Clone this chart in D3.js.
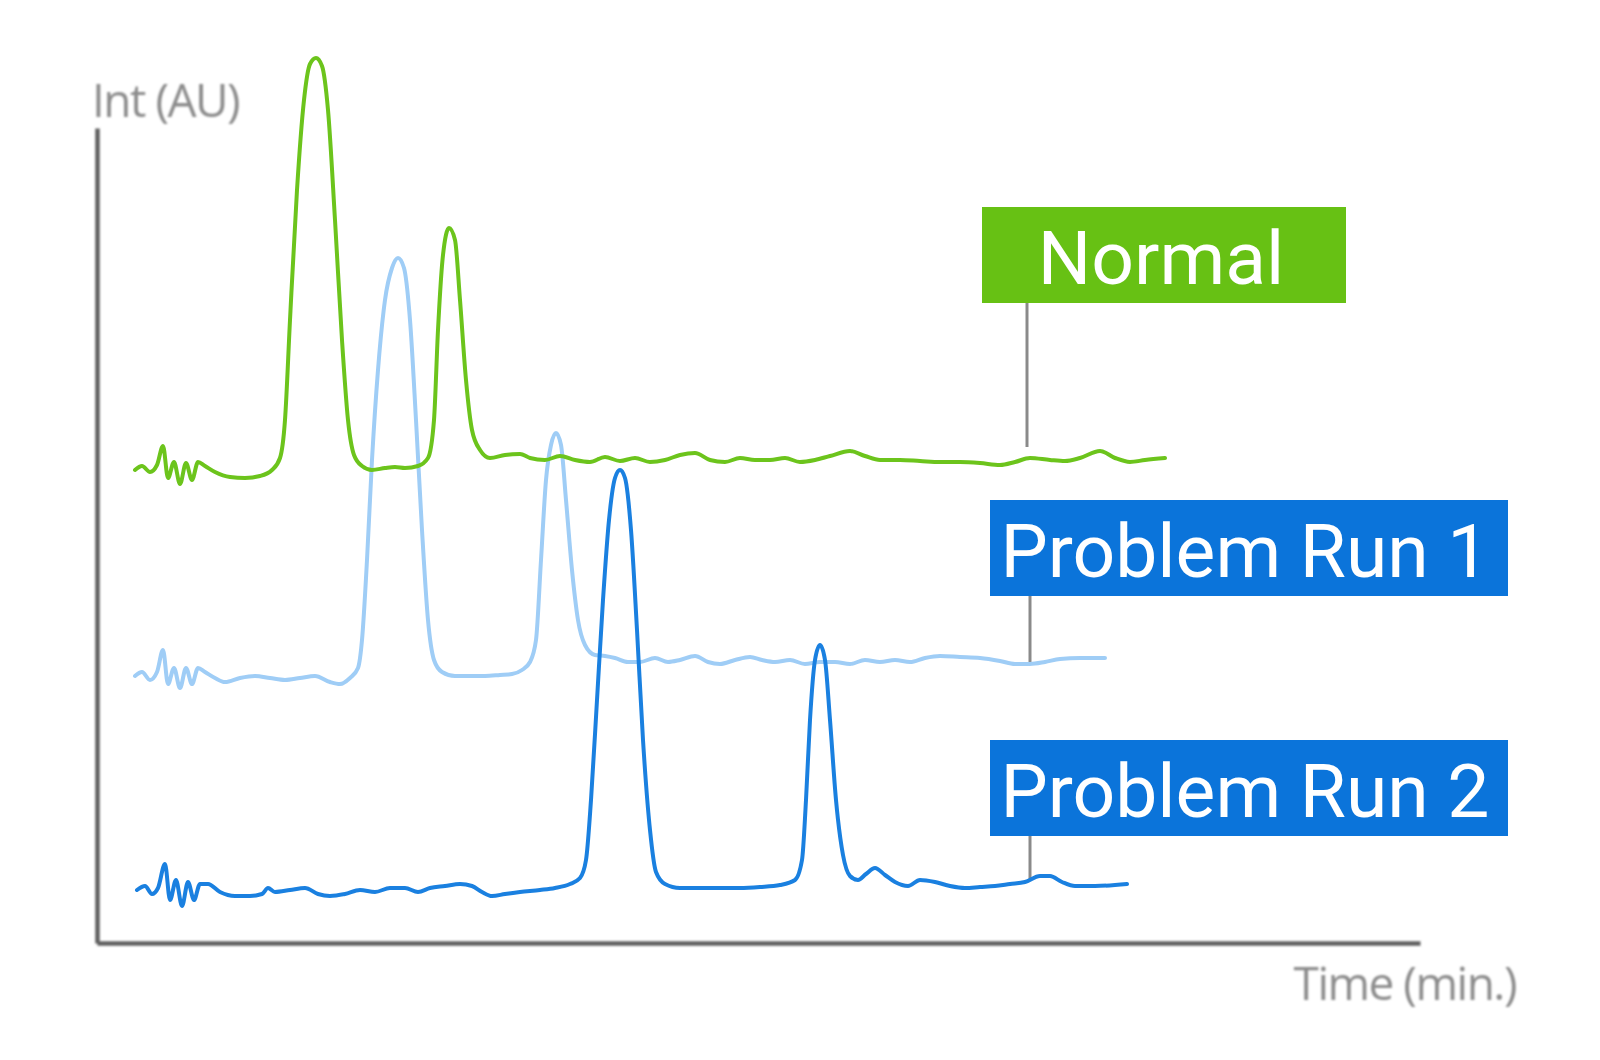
<!DOCTYPE html>
<html>
<head>
<meta charset="utf-8">
<script src="https://cdn.jsdelivr.net/npm/d3@7"></script>
<style>
  html, body { margin: 0; padding: 0; background: #fff; }
  svg { display: block; }
</style>
</head>
<body>
<div id="chart"></div>
<script>
// traces as [time (min), intensity (AU)]
const normalTrace = [
  [0.76,47.3],[0.90,47.7],[1.06,47.1],[1.20,47.8],[1.32,49.7],[1.42,46.5],[1.54,48.1],[1.66,45.9],
  [1.78,48.0],[1.90,46.3],[2.02,48.1],[2.16,47.7],[2.36,47.1],[2.66,46.6],[2.96,46.5],[3.26,46.7],
  [3.50,47.3],[3.66,48.5],[3.76,52.3],[3.86,62.3],[4.00,75.3],[4.14,84.3],[4.26,87.9],[4.38,88.5],
  [4.50,87.7],[4.62,83.3],[4.76,72.3],[4.90,60.3],[5.02,52.3],[5.14,48.8],[5.30,47.7],[5.50,47.3],
  [5.76,47.5],[5.96,47.6],[6.16,47.5],[6.42,47.7],[6.62,48.5],[6.74,52.3],[6.82,61.3],[6.92,68.8],
  [7.04,71.5],[7.16,70.3],[7.26,64.3],[7.38,56.3],[7.50,51.3],[7.66,49.3],[7.86,48.5],[8.16,48.8],
  [8.46,48.9],[8.66,48.5],[8.96,48.3],[9.26,48.7],[9.56,48.3],[9.86,48.1],[10.16,48.6],[10.46,48.2],
  [10.76,48.5],[11.06,48.1],[11.36,48.3],[11.66,48.8],[11.96,49.0],[12.26,48.3],[12.56,48.1],[12.86,48.5],
  [13.16,48.3],[13.46,48.3],[13.76,48.5],[14.06,48.1],[14.36,48.3],[14.66,48.7],[15.06,49.2],[15.36,48.7],
  [15.66,48.3],[16.06,48.3],[16.46,48.2],[16.86,48.1],[17.26,48.1],[17.66,48.0],[18.06,47.8],[18.36,48.1],
  [18.66,48.5],[19.06,48.3],[19.36,48.2],[19.66,48.5],[20.06,49.2],[20.36,48.5],[20.66,48.1],[20.96,48.3],
  [21.36,48.5]
];

const run1Trace = [
  [0.76,26.7],[0.90,27.1],[1.06,26.3],[1.20,27.1],[1.32,29.3],[1.42,25.9],[1.54,27.5],[1.66,25.5],
  [1.78,27.5],[1.90,25.9],[2.02,27.5],[2.16,27.1],[2.36,26.5],[2.56,26.1],[2.86,26.5],[3.16,26.7],
  [3.46,26.5],[3.76,26.3],[4.06,26.5],[4.36,26.7],[4.66,26.1],[4.86,25.9],[5.06,26.5],[5.22,27.5],
  [5.30,30.3],[5.40,38.3],[5.50,48.3],[5.62,57.3],[5.76,64.3],[5.90,67.5],[6.02,68.5],[6.14,67.5],
  [6.26,62.3],[6.38,52.3],[6.50,41.3],[6.62,32.3],[6.74,28.3],[6.90,27.1],[7.16,26.7],[7.46,26.7],
  [7.76,26.7],[8.06,26.8],[8.30,26.9],[8.50,27.3],[8.66,28.1],[8.78,30.3],[8.88,38.3],[8.98,46.3],
  [9.08,49.8],[9.18,51.0],[9.28,49.8],[9.38,44.3],[9.50,37.3],[9.62,32.3],[9.76,29.8],[9.96,28.8],
  [10.16,28.7],[10.36,28.5],[10.62,28.1],[10.86,28.1],[11.16,28.5],[11.42,28.1],[11.66,28.3],[11.96,28.7],
  [12.22,28.1],[12.46,27.9],[12.76,28.3],[13.06,28.6],[13.30,28.3],[13.56,28.1],[13.86,28.3],[14.16,27.9],
  [14.46,28.1],[14.76,28.1],[15.06,27.9],[15.36,28.3],[15.66,28.1],[15.96,28.3],[16.26,28.1],[16.56,28.5],
  [16.86,28.7],[17.26,28.6],[17.66,28.5],[18.06,28.2],[18.36,27.9],[18.66,27.9],[18.96,28.1],[19.26,28.4],
  [19.66,28.5],[20.16,28.5]
];

const run2Trace = [
  [0.80,5.3],[0.96,5.7],[1.10,4.9],[1.22,5.5],[1.36,7.9],[1.46,4.3],[1.58,6.3],[1.70,3.7],
  [1.82,6.1],[1.94,4.3],[2.06,5.9],[2.22,5.9],[2.46,5.1],[2.76,4.7],[3.06,4.7],[3.30,4.9],
  [3.42,5.5],[3.56,5.1],[3.86,5.3],[4.16,5.5],[4.42,4.9],[4.66,4.7],[4.96,4.9],[5.26,5.3],
  [5.56,5.1],[5.86,5.5],[6.16,5.5],[6.42,5.1],[6.66,5.5],[6.96,5.7],[7.26,5.9],[7.50,5.7],
  [7.70,5.1],[7.90,4.7],[8.16,4.9],[8.46,5.1],[8.86,5.3],[9.16,5.5],[9.46,5.9],[9.66,6.5],
  [9.78,8.3],[9.88,14.3],[10.00,24.3],[10.12,34.3],[10.24,42.3],[10.36,46.5],[10.46,47.3],[10.56,46.5],
  [10.68,41.3],[10.80,31.3],[10.92,20.3],[11.06,11.3],[11.18,7.1],[11.36,5.9],[11.66,5.5],[12.06,5.5],
  [12.46,5.5],[12.86,5.5],[13.26,5.6],[13.66,5.8],[13.96,6.3],[14.10,8.3],[14.18,14.3],[14.26,22.3],
  [14.36,28.3],[14.46,29.8],[14.56,28.3],[14.66,22.3],[14.78,14.3],[14.92,8.8],[15.06,6.7],[15.22,6.3],
  [15.38,6.9],[15.56,7.5],[15.76,6.8],[15.96,6.1],[16.22,5.7],[16.46,6.3],[16.76,6.1],[17.06,5.7],
  [17.36,5.5],[17.66,5.6],[17.96,5.7],[18.26,5.9],[18.56,6.1],[18.86,6.7],[19.06,6.7],[19.30,6.1],
  [19.56,5.7],[19.96,5.7],[20.60,5.9]
];

const seriesNames = ["Normal", "Problem Run 1", "Problem Run 2"];
const seriesColors = ["#6cc41c", "#9fcdf6", "#1a80e0"];
const labelColors = ["#67c114", "#0b74da", "#0b74da"];
// where each label's leader line meets its trace
const leaderTimes = [18.6, 18.66, 18.66];
const leaderLevels = [49.6, 28.1, 6.3];

const traces = [normalTrace, run1Trace, run2Trace];

const width = 1600, height = 1060;

const x = d3.scaleLinear().domain([0, 26.46]).range([97, 1420]);
const y = d3.scaleLinear().domain([0, 81.5]).range([943, 128]);

const svg = d3.select("#chart").append("svg")
    .attr("width", width)
    .attr("height", height)
    .style("font-family", "Roboto, sans-serif");

const defs = svg.append("defs");
defs.append("filter").attr("id", "soft")
    .append("feGaussianBlur").attr("stdDeviation", 0.8);

// axes: no ticks, just the two lines
const axisG = svg.append("g").attr("filter", "url(#soft)");
axisG.append("g")
    .attr("transform", `translate(0,${y(0)})`)
    .call(d3.axisBottom(x).ticks(0).tickSizeOuter(0))
    .call(g => g.select(".domain").attr("stroke", "#5f5f5f").attr("stroke-width", 4.5));
axisG.append("g")
    .attr("transform", `translate(${x(0)},0)`)
    .call(d3.axisLeft(y).ticks(0).tickSizeOuter(0))
    .call(g => g.select(".domain").attr("stroke", "#5f5f5f").attr("stroke-width", 4.5));

const axisLabels = svg.append("g")
    .attr("fill", "#8c8c8c")
    .attr("filter", "url(#soft)")
    .style("font-family", "'Open Sans', sans-serif")
    .style("font-size", "46px")
    .style("letter-spacing", "-1.5px");

axisLabels.append("text")
    .attr("x", 92).attr("y", 117)
    .text("Int (AU)");

axisLabels.append("text")
    .attr("x", 1516).attr("y", 1000)
    .attr("text-anchor", "end")
    .text("Time (min.)");

// leader lines
const boxes = [
  {x0: 982, x1: 1346, y0: 207, y1: 303},
  {x0: 990, x1: 1508, y0: 500, y1: 596},
  {x0: 990, x1: 1508, y0: 740, y1: 836}
];

svg.append("g").selectAll("line")
    .data(boxes)
    .join("line")
    .attr("x1", (d, i) => x(leaderTimes[i]))
    .attr("x2", (d, i) => x(leaderTimes[i]))
    .attr("y1", d => d.y1)
    .attr("y2", (d, i) => y(leaderLevels[i]))
    .attr("stroke", "#8a8a8a")
    .attr("stroke-width", 3);

const line = d3.line()
    .x(d => x(d[0]))
    .y(d => y(d[1]))
    .curve(d3.curveMonotoneX);

// draw back to front: light blue, green, dark blue
const order = [1, 0, 2];
svg.append("g")
    .attr("fill", "none")
    .attr("stroke-linejoin", "round")
    .attr("stroke-linecap", "round")
    .selectAll("path")
    .data(order)
    .join("path")
    .attr("d", i => line(traces[i]))
    .attr("stroke", i => seriesColors[i])
    .attr("stroke-width", 4);

// label boxes
const lab = svg.append("g").selectAll("g")
    .data(boxes)
    .join("g");

lab.append("rect")
    .attr("x", d => d.x0)
    .attr("y", d => d.y0)
    .attr("width", d => d.x1 - d.x0)
    .attr("height", d => d.y1 - d.y0)
    .attr("fill", (d, i) => labelColors[i]);

lab.append("text")
    .attr("x", (d, i) => i === 0 ? 1161 : 1245)
    .attr("y", d => d.y0 + 77)
    .attr("text-anchor", "middle")
    .attr("fill", "#fff")
    .style("font-size", "75px")
    .text((d, i) => seriesNames[i]);
</script>
</body>
</html>
